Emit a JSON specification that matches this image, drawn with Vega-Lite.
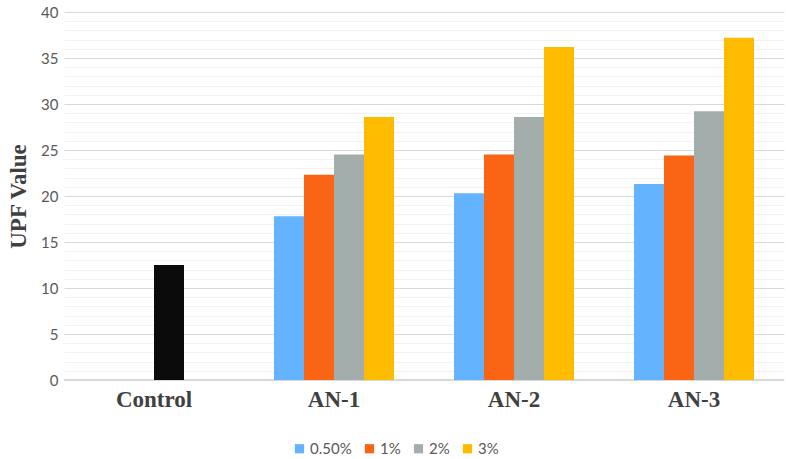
{
  "$schema": "https://vega.github.io/schema/vega-lite/v6.json",
  "width": 720,
  "height": 368,
  "autosize": "none",
  "padding": {"left": 64, "top": 12, "right": 2, "bottom": 79},
  "background": "white",
  "config": {"view": {"stroke": null}},
  "data": {
    "values": [
      {"group": "Control", "series": "2%", "key": "Control", "value": 12.5},
      {"group": "AN-1", "series": "0.50%", "key": "0.50%", "value": 17.8},
      {"group": "AN-1", "series": "1%", "key": "1%", "value": 22.3},
      {"group": "AN-1", "series": "2%", "key": "2%", "value": 24.5},
      {"group": "AN-1", "series": "3%", "key": "3%", "value": 28.6},
      {"group": "AN-2", "series": "0.50%", "key": "0.50%", "value": 20.3},
      {"group": "AN-2", "series": "1%", "key": "1%", "value": 24.5},
      {"group": "AN-2", "series": "2%", "key": "2%", "value": 28.6},
      {"group": "AN-2", "series": "3%", "key": "3%", "value": 36.2},
      {"group": "AN-3", "series": "0.50%", "key": "0.50%", "value": 21.3},
      {"group": "AN-3", "series": "1%", "key": "1%", "value": 24.4},
      {"group": "AN-3", "series": "2%", "key": "2%", "value": 29.2},
      {"group": "AN-3", "series": "3%", "key": "3%", "value": 37.2}
    ]
  },
  "layer": [
    {
      "mark": {"type": "rule", "color": "#d9d9d9", "strokeWidth": 1},
      "encoding": {
        "y": {
          "datum": 0,
          "type": "quantitative",
          "scale": {"domain": [0, 40], "nice": false},
          "axis": {
            "orient": "right",
            "values": [1,2,3,4,6,7,8,9,11,12,13,14,16,17,18,19,21,22,23,24,26,27,28,29,31,32,33,34,36,37,38,39],
            "grid": true,
            "gridColor": "#f2f2f2",
            "gridWidth": 1,
            "labels": false,
            "ticks": false,
            "domain": false,
            "title": null
          }
        }
      }
    },
    {
      "mark": {"type": "bar"},
      "encoding": {
        "x": {
          "field": "group",
          "type": "nominal",
          "sort": ["Control", "AN-1", "AN-2", "AN-3"],
          "scale": {"paddingInner": 0.3333, "paddingOuter": 0.1667},
          "axis": {
            "title": null,
            "labelAngle": 0,
            "labelFont": "Liberation Serif",
            "labelFontWeight": "bold",
            "labelFontSize": 23,
            "labelColor": "#404040",
            "labelPadding": 8,
            "ticks": false,
            "domain": false
          }
        },
        "xOffset": {
          "field": "series",
          "type": "nominal",
          "scale": {"domain": ["0.50%", "1%", "2%", "3%"], "paddingInner": 0, "paddingOuter": 0}
        },
        "y": {
          "field": "value",
          "type": "quantitative",
          "scale": {"domain": [0, 40], "nice": false},
          "axis": {
            "orient": "left",
            "values": [0, 5, 10, 15, 20, 25, 30, 35, 40],
            "grid": true,
            "gridColor": "#d9d9d9",
            "gridWidth": 1,
            "ticks": false,
            "domain": false,
            "labelFont": "Lato",
            "labelFontSize": 15,
            "labelColor": "#595959",
            "labelPadding": 6,
            "title": "UPF Value",
            "titleFont": "Liberation Serif",
            "titleFontWeight": "bold",
            "titleFontSize": 23,
            "titleColor": "#404040",
            "titlePadding": 10
          }
        },
        "color": {
          "field": "key",
          "type": "nominal",
          "scale": {
            "domain": ["0.50%", "1%", "2%", "3%", "Control"],
            "range": ["#63b3ff", "#f96515", "#a3adac", "#ffbb00", "#0b0b0b"]
          },
          "legend": {
            "values": ["0.50%", "1%", "2%", "3%"],
            "title": null,
            "orient": "none",
            "direction": "horizontal",
            "legendX": 228,
            "legendY": 429,
            "symbolType": "square",
            "symbolSize": 85,
            "symbolStrokeWidth": 0,
            "labelFont": "Lato",
            "labelFontSize": 15,
            "labelColor": "#595959",
            "labelOffset": 3,
            "columnPadding": 10
          }
        }
      }
    }
  ],
  "resolve": {"axis": {"y": "independent"}}
}
